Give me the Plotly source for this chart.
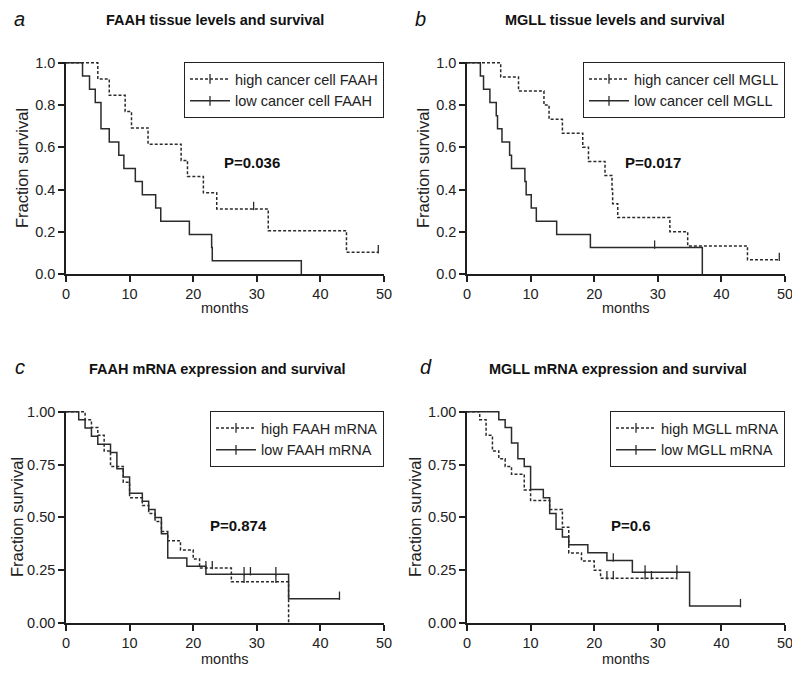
import plotly.graph_objects as go

# ---------------- data ----------------
# Panel a: FAAH tissue levels
a_high_t = [5.0, 6.8, 9.3, 10.3, 12.9, 18.1, 19.1, 21.6, 23.7, 31.8, 44.1]
a_high_s = [0.923, 0.846, 0.769, 0.692, 0.615, 0.538, 0.462, 0.385, 0.308, 0.205, 0.103]
a_high_cens = [29.5, 49.1]
a_high_end = 49.1
a_low_t = [2.6, 3.7, 4.6, 5.5, 6.8, 8.3, 9.1, 10.9, 12.0, 14.1, 14.9, 19.4, 22.9, 23.0, 37.0]
a_low_s = [0.9375, 0.875, 0.8125, 0.6875, 0.625, 0.5625, 0.5, 0.4375, 0.375, 0.3125, 0.25, 0.1875, 0.125, 0.0625, 0.0]
a_low_cens = []
a_low_end = None

# Panel b: MGLL tissue levels
b_high_t = [5.3, 8.1, 12.1, 12.9, 15.0, 18.2, 19.1, 21.7, 22.8, 22.9, 23.7, 31.9, 34.7, 44.1]
b_high_s = [0.933, 0.867, 0.8, 0.733, 0.667, 0.6, 0.533, 0.467, 0.4, 0.333, 0.267, 0.2, 0.133, 0.067]
b_high_cens = [49.1]
b_high_end = 49.1
b_low_t = [2.1, 2.6, 3.6, 4.6, 4.8, 5.5, 6.7, 7.0, 9.1, 9.3, 10.1, 10.9, 14.1, 19.4, 37.0]
b_low_s = [0.9375, 0.875, 0.8125, 0.75, 0.6875, 0.625, 0.5625, 0.5, 0.4375, 0.375, 0.3125, 0.25, 0.1875, 0.125, 0.0]
b_low_cens = [29.5]
b_low_end = None

# Panel c: FAAH mRNA
c_high_t = [3, 4, 5, 6, 7, 9, 10, 12, 13, 14, 15, 16, 18, 20, 21, 26, 35]
c_high_s = [0.963, 0.926, 0.889, 0.815, 0.741, 0.667, 0.593, 0.556, 0.519, 0.481, 0.433, 0.389, 0.346, 0.303, 0.26, 0.195, 0.0]
c_high_cens = [22, 23, 28, 33]
c_high_end = None
c_low_t = [2, 3, 4, 5, 7, 8, 9, 10, 12, 13, 14, 15, 16, 19, 22, 35]
c_low_s = [0.962, 0.923, 0.885, 0.846, 0.808, 0.731, 0.692, 0.615, 0.577, 0.538, 0.5, 0.423, 0.308, 0.269, 0.231, 0.115]
c_low_cens = [28, 29, 33, 43]
c_low_end = 43

# Panel d: MGLL mRNA
d_high_t = [2, 3, 4, 5, 6, 7, 9, 10, 13, 15, 16, 18, 20, 21]
d_high_s = [0.963, 0.889, 0.815, 0.778, 0.741, 0.704, 0.63, 0.58, 0.538, 0.454, 0.332, 0.294, 0.25, 0.212]
d_high_cens = [22, 23, 28, 29, 33]
d_high_end = 33
d_low_t = [5, 6, 7, 8, 9, 10, 12, 13, 14, 15, 16, 19, 22, 26, 35]
d_low_s = [0.963, 0.926, 0.852, 0.778, 0.741, 0.632, 0.593, 0.519, 0.444, 0.407, 0.37, 0.333, 0.296, 0.24, 0.08]
d_low_cens = [23, 28, 33, 43]
d_low_end = 43

panel_titles = ["FAAH tissue levels and survival", "MGLL tissue levels and survival",
                "FAAH mRNA expression and survival", "MGLL mRNA expression and survival"]
panel_letters = ["a", "b", "c", "d"]
legend_names = [("high cancer cell FAAH", "low cancer cell FAAH"),
                ("high cancer cell MGLL", "low cancer cell MGLL"),
                ("high FAAH mRNA", "low FAAH mRNA"),
                ("high MGLL mRNA", "low MGLL mRNA")]
p_values = ["P=0.036", "P=0.017", "P=0.874", "P=0.6"]
p_pos = [(24.6, 0.528), (24.6, 0.528), (22.3, 0.462), (22.3, 0.462)]
x_ticks = [0, 10, 20, 30, 40, 50]
y_ticks_tissue = [0.0, 0.2, 0.4, 0.6, 0.8, 1.0]
y_ticks_mrna = [0.0, 0.25, 0.5, 0.75, 1.0]
x_title = "months"
y_title = "Fraction survival"

panels = [
    ((a_high_t, a_high_s, a_high_cens, a_high_end), (a_low_t, a_low_s, a_low_cens, a_low_end)),
    ((b_high_t, b_high_s, b_high_cens, b_high_end), (b_low_t, b_low_s, b_low_cens, b_low_end)),
    ((c_high_t, c_high_s, c_high_cens, c_high_end), (c_low_t, c_low_s, c_low_cens, c_low_end)),
    ((d_high_t, d_high_s, d_high_cens, d_high_end), (d_low_t, d_low_s, d_low_cens, d_low_end)),
]

# ---------------- style ----------------
PAGE_OFF = 8                      # default page margin around the plot div
W, H = 800 - PAGE_OFF, 673 - PAGE_OFF
ML, MT = 66 - PAGE_OFF, 62 - PAGE_OFF
MR = W - (785 - PAGE_OFF)
MB = H - (623 - PAGE_OFF)
PW, PH = W - ML - MR, H - MT - MB
FONT = "Liberation Sans, Arial, sans-serif"
LINE_C = "#2b2b2b"
AX_C = "#1e1e1e"
TICK_H_PX = 6


def px_x(x):
    """screen x (window pixels) -> paper coordinate"""
    return (x - PAGE_OFF - ML) / PW


def px_y(y):
    """screen y (window pixels) -> paper coordinate"""
    return (H - MB - (y - PAGE_OFF)) / PH


x_domains = [[0, px_x(384)], [px_x(467), 1], [0, px_x(384)], [px_x(467), 1]]
y_domains = [[px_y(274), 1], [px_y(274), 1], [0, px_y(411)], [0, px_y(411)]]
x_title_px_y = [308, 308, 659, 659]


def step_value(times, surv, t):
    v = 1.0
    for ti, si in zip(times, surv):
        if ti <= t:
            v = si
    return v


fig = go.Figure()
annotations = []

for i, (high, low) in enumerate(panels):
    xa = "x" if i == 0 else f"x{i+1}"
    ya = "y" if i == 0 else f"y{i+1}"
    leg = "legend" if i == 0 else f"legend{i+1}"
    ph_px = (y_domains[i][1] - y_domains[i][0]) * PH
    tick_off = (TICK_H_PX / 2) / ph_px
    for k, (times, surv, cens, end) in enumerate((high, low)):
        dash = "3px,2px" if k == 0 else "solid"
        xs = [0] + list(times)
        ys = [1.0] + list(surv)
        if end is not None:
            xs.append(end)
            ys.append(surv[-1])
        fig.add_trace(go.Scatter(x=xs, y=ys, mode="lines", line_shape="hv",
                                 line=dict(color=LINE_C, width=1.5, dash=dash),
                                 xaxis=xa, yaxis=ya, showlegend=False, hoverinfo="skip"))
        if cens:
            cy = [step_value(times, surv, c) + tick_off for c in cens]
            fig.add_trace(go.Scatter(x=cens, y=cy, mode="markers",
                                     marker=dict(symbol="line-ns", size=TICK_H_PX,
                                                 line=dict(color=LINE_C, width=1.3)),
                                     xaxis=xa, yaxis=ya, showlegend=False, hoverinfo="skip",
                                     cliponaxis=False))
        # legend entry
        fig.add_trace(go.Scatter(x=[None], y=[None], mode="lines+markers",
                                 name=legend_names[i][k],
                                 line=dict(color=LINE_C, width=1.5, dash=dash),
                                 marker=dict(symbol="line-ns", size=7,
                                             line=dict(color=LINE_C, width=1.3)),
                                 xaxis=xa, yaxis=ya, legend=leg, showlegend=True))

    ytv = y_ticks_tissue if i < 2 else y_ticks_mrna
    yfmt = ".1f" if i < 2 else ".2f"
    common = dict(showline=True, linecolor=AX_C, linewidth=1.5, ticks="outside",
                  ticklen=6, tickwidth=1.5, tickcolor=AX_C, showgrid=False, zeroline=False,
                  tickfont=dict(family=FONT, size=14.5, color="#222"))
    fig.update_layout(**{
        ("xaxis" if i == 0 else f"xaxis{i+1}"): dict(
            domain=x_domains[i], anchor=ya, range=[0, 50], tickvals=x_ticks, **common),
        ("yaxis" if i == 0 else f"yaxis{i+1}"): dict(
            domain=y_domains[i], anchor=xa, range=[0, 1.004], tickvals=ytv, tickformat=yfmt,
            title=dict(text=y_title, font=dict(family=FONT, size=16.5, color="#222"), standoff=2),
            **common),
        leg: dict(x=x_domains[i][1], xanchor="right", y=y_domains[i][1], yanchor="top",
                  bordercolor="#222", borderwidth=1, bgcolor="white",
                  font=dict(family=FONT, size=14.5, color="#222"), tracegroupgap=0,
                  itemwidth=40),
    })
    # x-axis title placed under the axis
    annotations.append(dict(x=(x_domains[i][0] + x_domains[i][1]) / 2, y=px_y(x_title_px_y[i]),
                            xref="paper", yref="paper", text=x_title, showarrow=False,
                            xanchor="center", yanchor="middle",
                            font=dict(family=FONT, size=14.5, color="#222")))
    # P value
    annotations.append(dict(x=p_pos[i][0], y=p_pos[i][1], xref=xa, yref=ya, text=f"<b>{p_values[i]}</b>",
                            showarrow=False, xanchor="left", yanchor="middle",
                            font=dict(family=FONT, size=15, color="#111")))

# titles and panel letters (window pixel positions converted to paper coords)
title_px = [(214.7, 20), (614.7, 20), (217.5, 369), (617.5, 369)]
letter_px = [(12, 19), (413, 19), (13, 367), (418, 367)]
for i in range(4):
    annotations.append(dict(x=px_x(title_px[i][0]), y=px_y(title_px[i][1]), xref="paper", yref="paper",
                            text=f"<b>{panel_titles[i]}</b>", showarrow=False,
                            xanchor="center", yanchor="middle",
                            font=dict(family=FONT, size=14.5, color="#111")))
    annotations.append(dict(x=px_x(letter_px[i][0]), y=px_y(letter_px[i][1]), xref="paper", yref="paper",
                            text=f"<i>{panel_letters[i]}</i>", showarrow=False,
                            xanchor="left", yanchor="middle",
                            font=dict(family=FONT, size=20, color="#111")))

fig.update_layout(width=W, height=H, margin=dict(l=ML, r=MR, t=MT, b=MB, autoexpand=False),
                  paper_bgcolor="white", plot_bgcolor="white", annotations=annotations,
                  showlegend=True)

fig.write_html("out.html")
